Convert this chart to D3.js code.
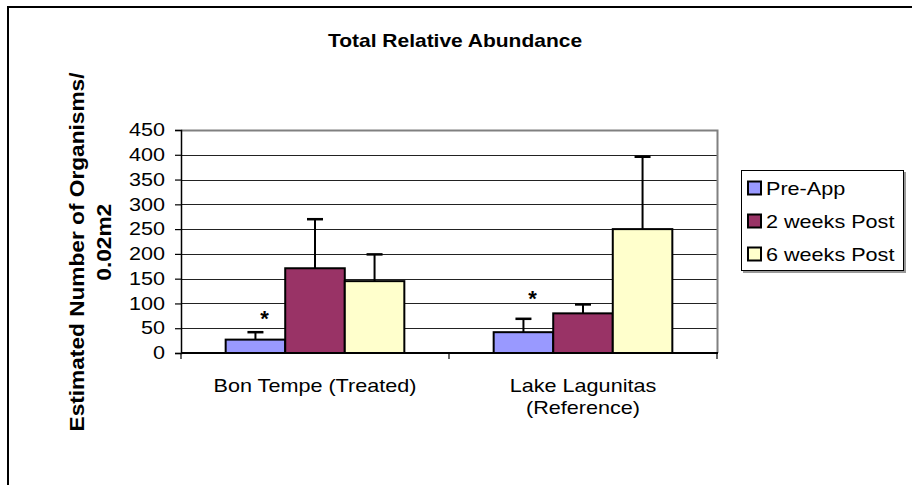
<!DOCTYPE html>
<html>
<head>
<meta charset="utf-8">
<script src="https://cdn.jsdelivr.net/npm/d3@7"></script>
<style>
  html, body { margin: 0; padding: 0; background: #fff; }
  svg { display: block; font-family: "Liberation Sans", Arial, sans-serif; }
</style>
</head>
<body>
<svg id="chart" width="912" height="485"></svg>
<script>
// ---- data ----
const categories = ["Bon Tempe (Treated)", "Lake Lagunitas\n(Reference)"];
const seriesNames = ["Pre-App", "2 weeks Post", "6 weeks Post"];
const preApp = [27, 42];
const twoWeeks = [171, 80];
const sixWeeks = [145, 250];
const preAppErr = [15, 27];
const twoWeeksErr = [99, 18];
const sixWeeksErr = [54, 146];
const asteriskValues = [81, 121]; // asterisk annotation height over Pre-App
const yTicks = [0, 50, 100, 150, 200, 250, 300, 350, 400, 450];
const colors = ["#9999FF", "#993366", "#FFFFCC"];

const values = [preApp, twoWeeks, sixWeeks];
const errs = [preAppErr, twoWeeksErr, sixWeeksErr];

const SX = 1.2; // horizontal stretch of the reference's lettering

const svg = d3.select("#chart");

// helper: horizontally stretched text anchored at (x, y)
function stext(parent, x, y, size, anchor, weight) {
  return parent.append("g").attr("transform", `translate(${x},${y}) scale(${SX},1)`)
    .append("text").attr("x", 0).attr("y", 0)
    .attr("text-anchor", anchor).attr("font-size", size)
    .attr("font-weight", weight || "normal").attr("fill", "#000");
}

// outer chart border
svg.append("rect").attr("x", 8).attr("y", 7).attr("width", 920).attr("height", 500)
  .attr("fill", "#fff").attr("stroke", "#000").attr("stroke-width", 2);

const plot = { left: 181, right: 717, top: 130, bottom: 353 };

const y = d3.scaleLinear().domain([0, 450]).range([plot.bottom, plot.top]);
const x0 = d3.scaleBand().domain(categories).range([plot.left, plot.right])
  .paddingInner(1 / 3).paddingOuter(1 / 6);
const x1 = d3.scaleBand().domain(seriesNames).range([0, x0.bandwidth()]);

// gridlines
svg.append("g").selectAll("line").data(yTicks.filter(t => t > 0 && t < 450)).join("line")
  .attr("x1", plot.left).attr("x2", plot.right)
  .attr("y1", d => Math.round(y(d)) + 0.5).attr("y2", d => Math.round(y(d)) + 0.5)
  .attr("stroke", "#222").attr("stroke-width", 1);

// plot border (top/right gray)
svg.append("path")
  .attr("d", `M${plot.left},${plot.top + 0.5}H${plot.right + 0.5}V${plot.bottom}`)
  .attr("fill", "none").attr("stroke", "#808080").attr("stroke-width", 2);

// y axis
const yAxis = svg.append("g").attr("transform", `translate(${plot.left},0)`)
  .call(d3.axisLeft(y).tickValues(yTicks).tickSize(6).tickPadding(10).tickFormat(d3.format("d")));
yAxis.select(".domain").attr("stroke", "#000").attr("stroke-width", 1.5);
yAxis.selectAll(".tick line").attr("stroke", "#000").attr("stroke-width", 1.2);
yAxis.selectAll(".tick text").attr("font-size", 18).attr("fill", "#000")
  .attr("font-family", "Liberation Sans, Arial, sans-serif")
  .attr("x", -16 / SX).attr("transform", `scale(${SX},1)`);

// bars
const groups = svg.append("g").selectAll("g").data(seriesNames).join("g");
groups.each(function (s, si) {
  d3.select(this).selectAll("rect").data(categories).join("rect")
    .attr("x", c => x0(c) + x1(s))
    .attr("y", (c, ci) => y(values[si][ci]))
    .attr("width", x1.bandwidth())
    .attr("height", (c, ci) => y(0) - y(values[si][ci]))
    .attr("fill", colors[si]).attr("stroke", "#000").attr("stroke-width", 2);
});

// error bars (upper only)
const eb = svg.append("g");
seriesNames.forEach((s, si) => {
  categories.forEach((c, ci) => {
    const cx = x0(c) + x1(s) + x1.bandwidth() / 2;
    const top = y(values[si][ci] + errs[si][ci]);
    eb.append("line").attr("x1", cx).attr("x2", cx)
      .attr("y1", y(values[si][ci])).attr("y2", top)
      .attr("stroke", "#000").attr("stroke-width", 2);
    eb.append("line").attr("x1", cx - 8).attr("x2", cx + 8)
      .attr("y1", top).attr("y2", top)
      .attr("stroke", "#000").attr("stroke-width", 2.5);
  });
});

// x axis
svg.append("line").attr("x1", plot.left).attr("x2", plot.right + 1)
  .attr("y1", plot.bottom).attr("y2", plot.bottom).attr("stroke", "#000").attr("stroke-width", 2);
const xTickPos = [plot.left, x0.step() + plot.left, plot.right];
svg.append("g").selectAll("line").data(xTickPos).join("line")
  .attr("x1", d => d).attr("x2", d => d).attr("y1", plot.bottom).attr("y2", plot.bottom + 6)
  .attr("stroke", "#000").attr("stroke-width", 1.2);

// category labels
categories.forEach(c => {
  const lines = c.split("\n");
  const t = stext(svg, x0(c) + x0.bandwidth() / 2, 392, 18, "middle");
  lines.forEach((l, i) => t.append("tspan").attr("x", 0).attr("dy", i === 0 ? 0 : 22).text(l));
});

// asterisks
categories.forEach((c, ci) => {
  svg.append("text").attr("x", x0(c) + x1(seriesNames[0]) + x1.bandwidth() / 2 + 9)
    .attr("y", y(asteriskValues[ci]) + 13).attr("text-anchor", "middle")
    .attr("font-size", 22).attr("font-weight", "bold").text("*");
});

// title
stext(svg, 455, 47, 17.5, "middle", "bold").text("Total Relative Abundance");

// y-axis title (rotated; stretched along the text direction)
const yt = svg.append("g").attr("transform", "translate(84,252) rotate(-90) scale(1.08,1)")
  .append("text").attr("text-anchor", "middle").attr("font-size", 21).attr("font-weight", "bold");
yt.append("tspan").attr("x", 0).attr("dy", 0).text("Estimated Number of Organisms/");
yt.append("tspan").attr("x", 9).attr("dy", 27).text("0.02m2");

// legend
const lg = svg.append("g").attr("transform", "translate(741,170)");
lg.append("rect").attr("x", 2).attr("y", 2).attr("width", 163).attr("height", 101).attr("fill", "#999");
lg.append("rect").attr("x", 0.5).attr("y", 0.5).attr("width", 162).attr("height", 100)
  .attr("fill", "#fff").attr("stroke", "#000").attr("stroke-width", 1);
seriesNames.forEach((s, i) => {
  const cy = 18 + i * 33;
  lg.append("rect").attr("x", 7).attr("y", cy - 6.5).attr("width", 13).attr("height", 13)
    .attr("fill", colors[i]).attr("stroke", "#000").attr("stroke-width", 2);
  stext(lg, 25, cy + 6.5, 18, "start").text(s);
});
</script>
</body>
</html>
